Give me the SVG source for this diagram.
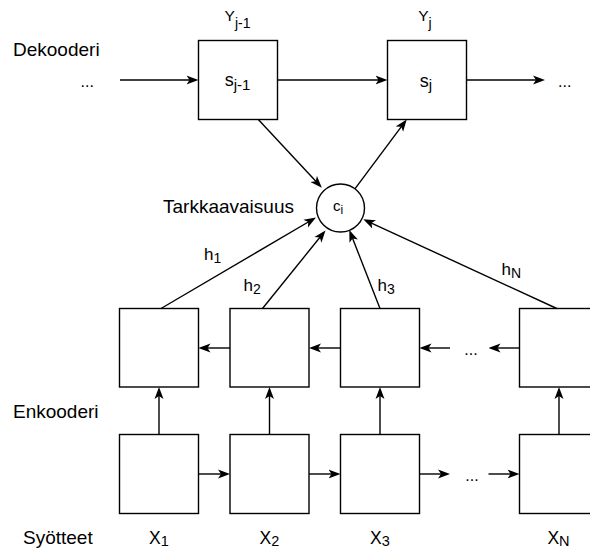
<svg xmlns="http://www.w3.org/2000/svg" width="590" height="549" viewBox="0 0 590 549">
<style>
  .box { fill: #ffffff; stroke: #000000; stroke-width: 1.4; }
  .edge { fill: none; stroke: #000000; stroke-width: 1.4; marker-end: url(#arr); }
  text { font-family: "Liberation Sans", Arial, Helvetica, sans-serif; fill: #000000; }
  .lbl { font-size: 19px; }
  .dots { font-size: 16px; }
  .y { font-size: 15.5px; }
  .s { font-size: 18px; }
  .h { font-size: 17px; }
  .x { font-size: 17.5px; }
  .c { font-size: 15px; }
</style>
<defs>
  <marker id="arr" viewBox="0 0 12 10" refX="9" refY="5" markerWidth="12" markerHeight="10" orient="auto" markerUnits="userSpaceOnUse">
    <path d="M0,0.5 L12,5 L0,9.5 L3,5 z" fill="#000000"/>
  </marker>
</defs>
<rect width="590" height="549" fill="#ffffff"/>

<g id="labels">
  <text class="lbl" x="13" y="56">Dekooderi</text>
  <text class="lbl" x="163" y="212.7">Tarkkaavaisuus</text>
  <text class="lbl" x="13" y="417.7">Enkooderi</text>
  <text class="lbl" x="23" y="544">Syötteet</text>
  <text class="dots" x="80.5" y="87">...</text>
  <text class="dots" x="558" y="87">...</text>
  <text class="dots" x="471" y="354.5" text-anchor="middle">...</text>
  <text class="dots" x="472" y="481" text-anchor="middle">...</text>
  <text class="y" x="237.5" y="21" text-anchor="middle">Y<tspan font-size="14" dy="6.5">j-1</tspan></text>
  <text class="y" x="425" y="21" text-anchor="middle">Y<tspan font-size="14" dy="6.5">j</tspan></text>
  <text class="h" x="204" y="260">h<tspan font-size="14" dy="2.5">1</tspan></text>
  <text class="h" x="243.5" y="291">h<tspan font-size="14" dy="2.5">2</tspan></text>
  <text class="h" x="377.5" y="291">h<tspan font-size="14" dy="2.5">3</tspan></text>
  <text class="h" x="501.5" y="275">h<tspan font-size="14" dy="3">N</tspan></text>
  <text class="x" x="159" y="543.5" text-anchor="middle">X<tspan font-size="14.5" dy="2.5">1</tspan></text>
  <text class="x" x="269.5" y="543.5" text-anchor="middle">X<tspan font-size="14.5" dy="2.5">2</tspan></text>
  <text class="x" x="380" y="543.5" text-anchor="middle">X<tspan font-size="14.5" dy="2.5">3</tspan></text>
  <text class="x" x="558.5" y="543.5" text-anchor="middle">X<tspan font-size="14.5" dy="2.5">N</tspan></text>
</g>

<g id="dec1">
  <rect class="box" x="198.5" y="40.5" width="79" height="79"/>
  <text class="s" x="237.5" y="86" text-anchor="middle">s<tspan font-size="15" dy="3.5">j-1</tspan></text>
</g>
<g id="dec2">
  <rect class="box" x="387.5" y="40.5" width="79" height="79"/>
  <text class="s" x="426" y="86.5" text-anchor="middle">s<tspan font-size="15" dy="3.5">j</tspan></text>
</g>
<g id="attn">
  <circle class="box" cx="340.5" cy="208" r="24"/>
  <text class="c" x="333" y="210.7">c<tspan font-size="12" dy="3.5">i</tspan></text>
</g>

<g id="enc-top-1"><rect class="box" x="119.5" y="308.5" width="79" height="78.5"/></g>
<g id="enc-top-2"><rect class="box" x="230" y="308.5" width="79" height="78.5"/></g>
<g id="enc-top-3"><rect class="box" x="340.5" y="308.5" width="79" height="78.5"/></g>
<g id="enc-top-n"><rect class="box" x="519.5" y="308.5" width="79" height="78.5"/></g>
<g id="enc-bot-1"><rect class="box" x="119.5" y="434.5" width="79" height="79"/></g>
<g id="enc-bot-2"><rect class="box" x="230" y="434.5" width="79" height="79"/></g>
<g id="enc-bot-3"><rect class="box" x="340.5" y="434.5" width="79" height="79"/></g>
<g id="enc-bot-n"><rect class="box" x="519.5" y="434.5" width="79" height="79"/></g>

<g id="connectors">
  <line class="edge" x1="120" y1="80" x2="195.5" y2="80"/>
  <line class="edge" x1="277.5" y1="80" x2="384.5" y2="80"/>
  <line class="edge" x1="466.5" y1="80" x2="542" y2="80"/>
  <line class="edge" x1="258.3" y1="119.5" x2="319.8" y2="185.6"/>
  <line class="edge" x1="354.9" y1="188.8" x2="404.9" y2="121.9"/>
  <line class="edge" x1="161" y1="308.5" x2="313.4" y2="219"/>
  <line class="edge" x1="262.5" y1="308.5" x2="323.6" y2="232.8"/>
  <line class="edge" x1="380" y1="308.5" x2="350.4" y2="232.8"/>
  <line class="edge" x1="556.8" y1="308.5" x2="366" y2="220.6"/>
  <line class="edge" x1="230" y1="348" x2="201.5" y2="348"/>
  <line class="edge" x1="340.5" y1="348" x2="312" y2="348"/>
  <line class="edge" x1="450" y1="348" x2="422.5" y2="348"/>
  <line class="edge" x1="519.5" y1="348" x2="491.5" y2="348"/>
  <line class="edge" x1="198.5" y1="474" x2="227" y2="474"/>
  <line class="edge" x1="309" y1="474" x2="337.5" y2="474"/>
  <line class="edge" x1="419.5" y1="474" x2="447" y2="474"/>
  <line class="edge" x1="488.5" y1="474" x2="516.5" y2="474"/>
  <line class="edge" x1="159" y1="434.5" x2="159" y2="390"/>
  <line class="edge" x1="269.5" y1="434.5" x2="269.5" y2="390"/>
  <line class="edge" x1="380" y1="434.5" x2="380" y2="390"/>
  <line class="edge" x1="559" y1="434.5" x2="559" y2="390"/>
</g>
</svg>
